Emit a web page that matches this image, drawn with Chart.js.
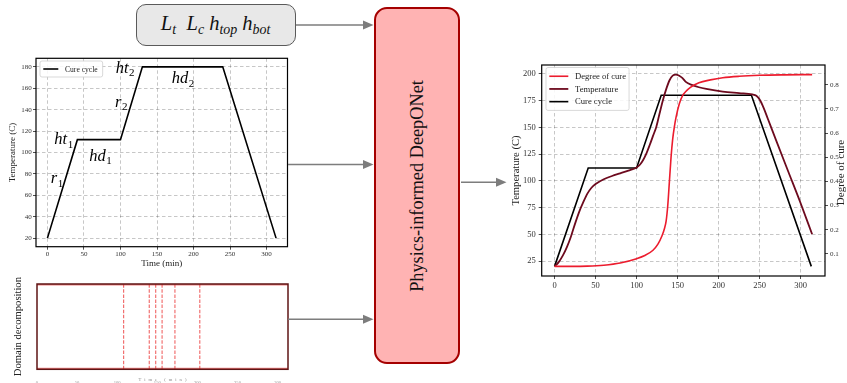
<!DOCTYPE html>
<html>
<head>
<meta charset="utf-8">
<title>PI-DeepONet cure cycle</title>
<script src="https://cdn.jsdelivr.net/npm/chart.js@4.4.1/dist/chart.umd.min.js"></script>
<style>
  html, body { margin: 0; padding: 0; background: #fff; }
  body { width: 847px; height: 383px; position: relative; overflow: hidden;
         font-family: 'Liberation Serif', 'DejaVu Serif', serif; }
  .wrap { position: absolute; }
  .wrap canvas { display: block; }
  #params { position: absolute; left: 135.5px; top: 4px; width: 160px; height: 41.5px;
            box-sizing: border-box; border: 1.5px solid #5a5a5a; border-radius: 10px;
            background: #e8e8e8; display: flex; align-items: center; justify-content: center;
            font-size: 20.5px; font-style: italic; color: #111; padding-bottom: 2px; }
  #params .m { margin: 0 2.5px; white-space: nowrap; }
  #params sub { font-size: 0.68em; vertical-align: -0.32em; line-height: 0; }
  #net { position: absolute; left: 374px; top: 7px; width: 86px; height: 357px;
         box-sizing: border-box; border: 2.5px solid #a50000; border-radius: 13px;
         background: #ffb3b3; }
  #net span { position: absolute; left: 50%; top: 50%; white-space: nowrap;
              font-size: 18.3px; color: #111;
              transform: translate(-50%, -50%) rotate(-90deg); }
  #arrows { position: absolute; left: 0; top: 0; }
</style>
</head>
<body>

<div id="params"><span class="m"><i>L</i><sub>t</sub></span><span class="m" style="margin-left:8px"><i>L</i><sub>c</sub></span><span class="m"><i>h</i><sub>top</sub></span><span class="m"><i>h</i><sub>bot</sub></span></div>

<div id="net"><span>Physics-informed DeepONet</span></div>

<div class="wrap" style="left:0;top:50px;width:300px;height:225px"><canvas id="cycleChart" width="300" height="225"></canvas></div>
<div class="wrap" style="left:0;top:275px;width:300px;height:108px"><canvas id="domainChart" width="300" height="108"></canvas></div>
<div class="wrap" style="left:500px;top:55px;width:347px;height:250px"><canvas id="predChart" width="347" height="250"></canvas></div>

<svg id="arrows" width="847" height="383">
  <g stroke="#7d7d7d" stroke-width="1.5" fill="#7d7d7d">
    <line x1="296" y1="25" x2="364" y2="25"/>
    <polygon stroke="none" points="373.5,25 363,20.5 363,29.5"/>
    <line x1="288" y1="164.5" x2="364" y2="164.5"/>
    <polygon stroke="none" points="373.5,164.5 363,160 363,169"/>
    <line x1="288" y1="319.3" x2="364" y2="319.3"/>
    <polygon stroke="none" points="373.5,319.3 363,314.8 363,323.8"/>
    <line x1="461" y1="182.3" x2="497" y2="182.3"/>
    <polygon stroke="none" points="506.5,182.3 496,177.8 496,186.8"/>
  </g>
</svg>

<script>
// ---- cure cycle (min, C) ----
const cycleTime = [0, 41, 100, 130, 240, 313];
const cycleTemp = [20, 112, 112, 180, 180, 20];
const cycleTicksX = [0, 50, 100, 150, 200, 250, 300];
const cycleTicksY = [20, 40, 60, 80, 100, 120, 140, 160, 180];
const segmentLabels = [['r', '1'], ['ht', '1'], ['hd', '1'], ['r', '2'], ['ht', '2'], ['hd', '2']];

// ---- time-domain split (min) ----
const domainBounds = [108, 140, 148, 156, 172, 203];
const domainEnd = 313;
const domainTicksX = [0, 50, 100, 150, 200, 250, 300];

// ---- predicted part temperature (min, C) ----
const tempTime = [0, 5, 10, 15, 20, 25, 30, 35, 40, 45, 50, 60, 70, 80, 90, 100, 104, 108, 112, 116,
                  120, 124, 128, 132, 136, 140, 144, 148, 152, 156, 160, 168, 176, 185, 205, 225,
                  241, 246, 250, 255, 260, 270, 285, 300, 314];
const tempValue = [20, 24, 30, 38, 48, 60, 71, 80, 88, 93.5, 97, 101.5, 104.5, 107, 109.5, 112.5, 115, 119.5, 125.7, 133.5,
                   142, 150.4, 163, 175.2, 185.5, 193.8, 198.4, 199.3, 198.2, 196, 192.5, 189.5, 187.5, 186, 183.5, 182,
                   180.8, 179.5, 176, 168, 158, 138, 108.5, 79, 50];

// ---- predicted degree of cure (min, -) ----
const cureTime = [0, 20, 40, 60, 80, 100, 110, 120, 126, 131, 134, 136, 138, 140, 142, 144, 146, 148,
                  152, 156, 160, 166, 176, 190, 205, 225, 250, 280, 314];
const cureValue = [0.048, 0.048, 0.049, 0.053, 0.062, 0.08, 0.093, 0.115, 0.14, 0.175, 0.205, 0.235, 0.3, 0.4, 0.5, 0.575, 0.625, 0.664,
                   0.72, 0.755, 0.772, 0.79, 0.808, 0.82, 0.829, 0.835, 0.839, 0.841, 0.842];

const predTicksX = [0, 50, 100, 150, 200, 250, 300];
const predTicksY = [25, 50, 75, 100, 125, 150, 175, 200];
const cureTicks = [0.1, 0.2, 0.3, 0.4, 0.5, 0.6, 0.7, 0.8];

// ------------------------------------------------------------------
const FONT = "'Liberation Serif', 'DejaVu Serif', serif";
const RED = '#ec1c2e';
const MAROON = '#6d0a1e';

const pts = (xs, ys) => xs.map((x, i) => ({ x, y: ys[i] }));
const fixedTicks = values => scale => { scale.ticks = values.map(v => ({ value: v })); };
const fixWidth = w => scale => { scale.width = w; };
const fixHeight = h => scale => { scale.height = h; };
const font = size => ({ family: FONT, size });

const gridStyle = (tick) => ({
  color: 'rgba(0,0,0,0.28)', lineWidth: 0.8,
  drawTicks: true, tickLength: tick, tickColor: '#222', tickWidth: 0.8, tickBorderDash: []
});
const dashedBorder = { display: false, dash: [3.5, 2.5] };
const tickStyle = (size, pad, cb) => ({
  font: font(size), color: '#333', padding: pad, autoSkip: false, maxRotation: 0,
  callback: cb || (v => String(v))
});

// axes frame on all four sides
const framePlugin = {
  id: 'frame',
  afterDatasetsDraw(chart, args, o) {
    const { ctx, chartArea: a } = chart;
    ctx.save();
    ctx.strokeStyle = o.color;
    ctx.lineWidth = o.width;
    ctx.strokeRect(a.left, a.top, a.right - a.left, a.bottom - a.top);
    ctx.restore();
  }
};

// legend box drawn inside the plot area
const boxLegend = {
  id: 'boxLegend',
  afterDraw(chart, args, o) {
    const { ctx, chartArea: a } = chart;
    const items = chart.data.datasets.filter(d => d.label);
    ctx.save();
    ctx.font = `${o.size}px ${FONT}`;
    const tw = Math.max(...items.map(d => ctx.measureText(d.label).width));
    const x = a.left + o.dx, y = a.top + o.dy;
    const w = o.padX + o.lineLen + o.gap + tw + o.padR;
    const h = o.rowH * items.length + 2 * o.padY;
    ctx.beginPath();
    ctx.roundRect(x, y, w, h, 2);
    ctx.fillStyle = 'rgba(255,255,255,0.85)';
    ctx.fill();
    ctx.strokeStyle = '#cfcfcf';
    ctx.lineWidth = 0.8;
    ctx.stroke();
    items.forEach((d, i) => {
      const cy = y + o.padY + o.rowH * (i + 0.5);
      ctx.beginPath();
      ctx.moveTo(x + o.padX, cy);
      ctx.lineTo(x + o.padX + o.lineLen, cy);
      ctx.strokeStyle = d.borderColor;
      ctx.lineWidth = d.borderWidth;
      ctx.stroke();
      ctx.fillStyle = '#222';
      ctx.textBaseline = 'middle';
      ctx.fillText(d.label, x + o.padX + o.lineLen + o.gap, cy + 0.5);
    });
    ctx.restore();
  }
};

// segment names of the cure cycle, anchored in data coordinates
const mathLabels = {
  id: 'mathLabels',
  afterDatasetsDraw(chart, args, o) {
    const { ctx, scales: { x, y } } = chart;
    ctx.save();
    ctx.fillStyle = '#000';
    ctx.textBaseline = 'alphabetic';
    segmentLabels.forEach(([base, sub], i) => {
      const [t, T] = o.anchors[i];
      let px = x.getPixelForValue(t);
      const py = y.getPixelForValue(T);
      ctx.font = `italic ${o.size}px ${FONT}`;
      ctx.fillText(base, px, py);
      px += ctx.measureText(base).width + 0.5;
      ctx.font = `${o.subSize}px ${FONT}`;
      ctx.fillText(sub, px, py + o.subDrop);
    });
    ctx.restore();
  }
};

// right-hand axis title, reading bottom to top
const sideTitle = {
  id: 'sideTitle',
  afterDraw(chart, args, o) {
    const { ctx, chartArea: a } = chart;
    ctx.save();
    ctx.translate(o.x, (a.top + a.bottom) / 2 + o.dy);
    ctx.rotate(-Math.PI / 2);
    ctx.font = `${o.size}px ${FONT}`;
    ctx.fillStyle = '#222';
    ctx.textAlign = 'center';
    ctx.textBaseline = 'middle';
    ctx.fillText(o.text, 0, 0);
    ctx.restore();
  }
};

// tiny, letter-spaced x title under the domain strip
const spacedTitle = {
  id: 'spacedTitle',
  afterDraw(chart, args, o) {
    const { ctx, chartArea: a } = chart;
    ctx.save();
    ctx.font = `${o.size}px ${FONT}`;
    ctx.fillStyle = '#888';
    if ('letterSpacing' in ctx) ctx.letterSpacing = o.spacing + 'px';
    ctx.textAlign = 'center';
    ctx.textBaseline = 'middle';
    ctx.fillText(o.text, (a.left + a.right) / 2 + o.spacing / 2, o.y);
    ctx.restore();
  }
};

const common = { responsive: false, animation: false, events: [] };

// ---------------- cure cycle panel ----------------
new Chart(document.getElementById('cycleChart'), {
  type: 'line',
  data: {
    datasets: [{
      label: 'Cure cycle', data: pts(cycleTime, cycleTemp),
      borderColor: '#000', borderWidth: 1.6, pointRadius: 0, tension: 0
    }]
  },
  options: {
    ...common,
    layout: { padding: { left: 0, top: 8.3, right: 12.5, bottom: 0 } },
    plugins: {
      legend: { display: false }, tooltip: { enabled: false },
      frame: { color: '#000', width: 1.2 },
      boxLegend: { size: 7.6, dx: 4, dy: 2.7, padX: 3.3, padR: 5, padY: 2.5, rowH: 11, lineLen: 15, gap: 6.7 },
      mathLabels: {
        size: 16.5, subSize: 11, subDrop: 3.5,
        anchors: [[4.5, 71.2], [9.4, 107.7], [57.4, 92.1], [92.5, 142.8], [93.5, 174.5], [170.2, 164.6]]
      }
    },
    scales: {
      x: {
        type: 'linear', min: -15.65, max: 328.65,
        afterBuildTicks: fixedTicks(cycleTicksX), afterFit: fixHeight(28.3),
        grid: gridStyle(3), border: dashedBorder, ticks: tickStyle(7, 0.5),
        title: { display: true, text: 'Time (min)', font: font(9), color: '#222', padding: { top: 0, bottom: 6.3 } }
      },
      y: {
        type: 'linear', min: 12, max: 188,
        afterBuildTicks: fixedTicks(cycleTicksY), afterFit: fixWidth(36),
        grid: gridStyle(3), border: dashedBorder, ticks: tickStyle(7, 1.3),
        title: { display: true, text: 'Temperature (C)', font: font(9), color: '#222', padding: { top: 7.6, bottom: 0 } }
      }
    }
  },
  plugins: [framePlugin, mathLabels, boxLegend]
});

// ---------------- domain decomposition strip ----------------
const edgeStyle = { borderColor: 'rgba(228,48,48,0.6)', borderWidth: 3, pointRadius: 0, tension: 0 };
const boundStyle = { borderColor: 'rgba(236,64,64,0.75)', borderWidth: 1.2, borderDash: [3.5, 1.6], pointRadius: 0, tension: 0 };

new Chart(document.getElementById('domainChart'), {
  type: 'line',
  data: {
    datasets: [
      { data: pts([0, domainEnd], [0, 0]), ...edgeStyle },
      { data: pts([0, domainEnd], [1, 1]), ...edgeStyle },
      ...domainBounds.map(b => ({ data: pts([b, b], [0, 1]), ...boundStyle }))
    ]
  },
  options: {
    ...common,
    layout: { padding: { left: 0, top: 9, right: 12, bottom: 0 } },
    plugins: {
      legend: { display: false }, tooltip: { enabled: false },
      frame: { color: '#5e1515', width: 1.5 },
      spacedTitle: { text: 'Time (min)', size: 4.6, spacing: 3, y: 105 }
    },
    scales: {
      x: {
        type: 'linear', min: 0, max: domainEnd,
        afterBuildTicks: fixedTicks(domainTicksX), afterFit: fixHeight(13.7),
        grid: { display: false }, border: { display: false },
        ticks: { ...tickStyle(4.6, 2.6), color: '#999' }
      },
      y: {
        type: 'linear', min: 0, max: 1, afterFit: fixWidth(37),
        grid: { display: false }, border: { display: false }, ticks: { display: false },
        title: { display: true, text: 'Domain decomposition', font: font(10.6), color: '#222', padding: { top: 11.6, bottom: 0 } }
      }
    }
  },
  plugins: [framePlugin, spacedTitle]
});

// ---------------- predicted response ----------------
new Chart(document.getElementById('predChart'), {
  type: 'line',
  data: {
    datasets: [
      { label: 'Degree of cure', data: pts(cureTime, cureValue), yAxisID: 'y1',
        borderColor: RED, borderWidth: 1.6, pointRadius: 0, cubicInterpolationMode: 'monotone' },
      { label: 'Temperature', data: pts(tempTime, tempValue), yAxisID: 'y',
        borderColor: MAROON, borderWidth: 1.8, pointRadius: 0, cubicInterpolationMode: 'monotone' },
      { label: 'Cure cycle', data: pts(cycleTime, cycleTemp), yAxisID: 'y',
        borderColor: '#000', borderWidth: 1.6, pointRadius: 0, tension: 0 }
    ]
  },
  options: {
    ...common,
    layout: { padding: { left: 0, top: 10, right: 0, bottom: 0 } },
    plugins: {
      legend: { display: false }, tooltip: { enabled: false },
      frame: { color: '#000', width: 1.2 },
      boxLegend: { size: 8.6, dx: 4.3, dy: 2.5, padX: 3.3, padR: 3, padY: 2.4, rowH: 12.7, lineLen: 19, gap: 6.7 },
      sideTitle: { text: 'Degree of cure', size: 11, x: 341, dy: 2 }
    },
    scales: {
      x: {
        type: 'linear', min: -15.7, max: 329.7,
        afterBuildTicks: fixedTicks(predTicksX), afterFit: fixHeight(29),
        grid: gridStyle(3), border: dashedBorder, ticks: tickStyle(8.5, 1.5)
      },
      y: {
        type: 'linear', position: 'left', min: 11, max: 208.3,
        afterBuildTicks: fixedTicks(predTicksY), afterFit: fixWidth(41.7),
        grid: gridStyle(3), border: dashedBorder, ticks: tickStyle(8.5, 3),
        title: { display: true, text: 'Temperature (C)', font: font(10.6), color: '#222', padding: { top: 10.3, bottom: 0 } }
      },
      y1: {
        type: 'linear', position: 'right', min: 0.0083, max: 0.8817,
        afterBuildTicks: fixedTicks(cureTicks), afterFit: fixWidth(22),
        grid: { ...gridStyle(3), drawOnChartArea: false }, border: { display: false },
        ticks: tickStyle(7, 2, v => v.toFixed(1))
      }
    }
  },
  plugins: [framePlugin, boxLegend, sideTitle]
});
</script>
</body>
</html>
